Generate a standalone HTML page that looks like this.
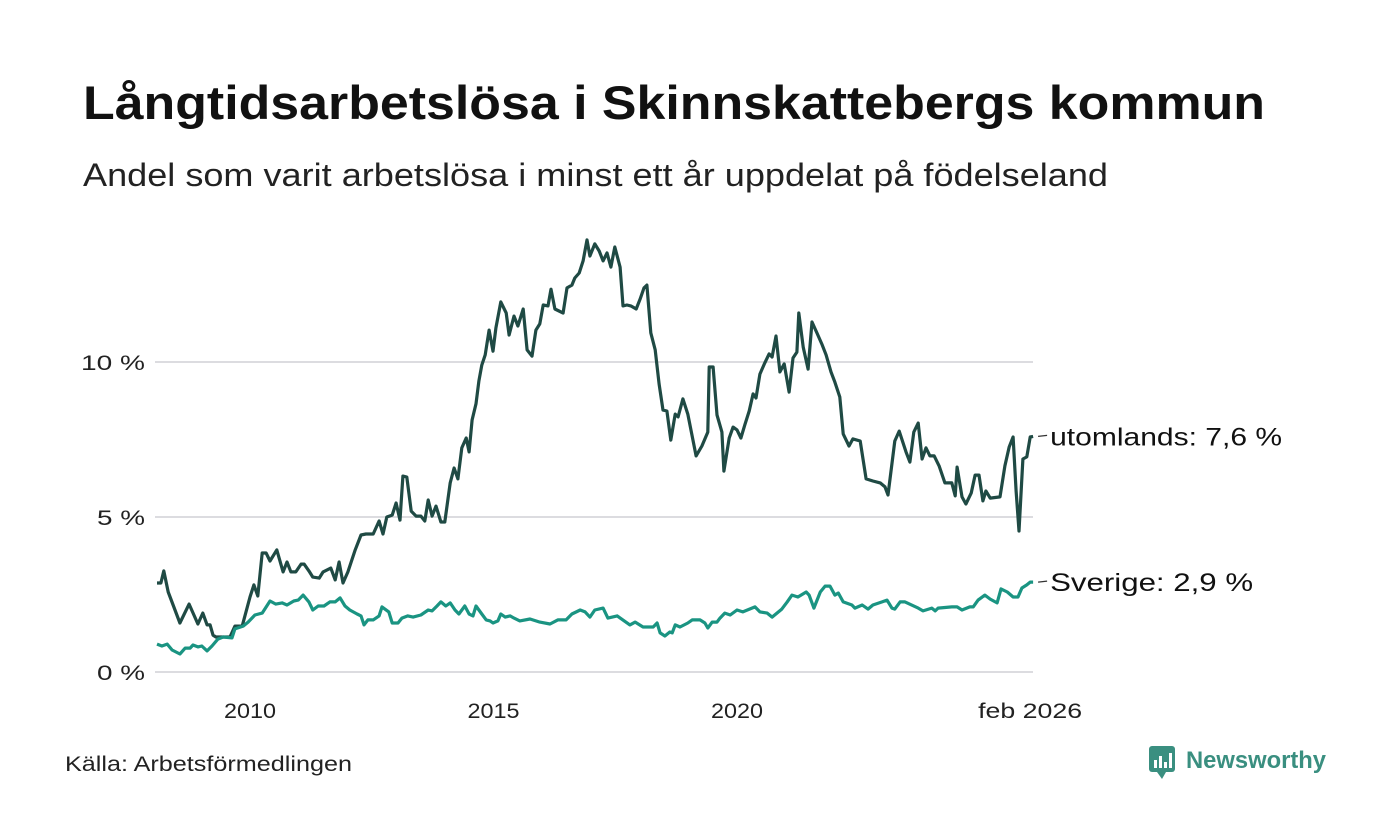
<!DOCTYPE html>
<html><head><meta charset="utf-8"><style>
html,body{margin:0;padding:0;background:#fff;}
svg{display:block;font-family:"Liberation Sans","DejaVu Sans",sans-serif;}
</style></head><body>
<svg id="chart" width="1400" height="840" viewBox="0 0 1400 840">
<text x="83" y="119" font-size="47" font-weight="bold" fill="#111" textLength="1182" lengthAdjust="spacingAndGlyphs">Långtidsarbetslösa i Skinnskattebergs kommun</text>
<text x="83" y="186" font-size="32" fill="#222" textLength="1025" lengthAdjust="spacingAndGlyphs">Andel som varit arbetslösa i minst ett år uppdelat på födelseland</text>
<g id="grid"></g>
<g id="yticks"></g>
<g id="xticks"></g>
<g id="lines"></g>
<g id="labels"></g>
<text x="65" y="771" font-size="21" fill="#222" textLength="287" lengthAdjust="spacingAndGlyphs">Källa: Arbetsförmedlingen</text>
<g>
<rect x="1149" y="746" width="26" height="26" rx="3" fill="#3a8f80"/>
<path d="M1157 772 L1162 779 L1166 772 Z" fill="#3a8f80"/>
<rect x="1154" y="760" width="3" height="8" fill="#fff"/><rect x="1159" y="756" width="3" height="12" fill="#fff"/><rect x="1164" y="762" width="3" height="6" fill="#fff"/><rect x="1169" y="753" width="3" height="15" fill="#fff"/>
<text x="1186" y="768" font-size="24" font-weight="bold" fill="#3a8f80" textLength="140" lengthAdjust="spacingAndGlyphs">Newsworthy</text>
</g>
</svg>
<script>
const yTicks = [0, 5, 10];
const yTickLabels = ["0 %", "5 %", "10 %"];
const xTicks = [2010, 2015, 2020, 2026.08];
const xTickLabels = ["2010", "2015", "2020", "feb 2026"];
const seriesNames = ["utomlands", "Sverige"];
const seriesLabels = ["utomlands: 7,6 %", "Sverige: 2,9 %"];
const foreignDates = [2008.09,2008.17,2008.23,2008.32,2008.56,2008.75,2008.93,2009.03,2009.12,2009.18,2009.24,2009.30,2009.59,2009.69,2009.84,2010.00,2010.08,2010.16,2010.25,2010.33,2010.41,2010.55,2010.68,2010.76,2010.84,2010.94,2011.05,2011.11,2011.21,2011.29,2011.42,2011.50,2011.66,2011.75,2011.83,2011.91,2012.01,2012.16,2012.28,2012.38,2012.53,2012.65,2012.73,2012.81,2012.92,2013.00,2013.08,2013.14,2013.22,2013.31,2013.41,2013.51,2013.59,2013.66,2013.74,2013.82,2013.92,2014.00,2014.11,2014.19,2014.27,2014.35,2014.44,2014.50,2014.56,2014.64,2014.70,2014.76,2014.83,2014.91,2014.99,2015.05,2015.15,2015.26,2015.32,2015.42,2015.50,2015.61,2015.69,2015.79,2015.87,2015.95,2016.02,2016.12,2016.18,2016.26,2016.43,2016.51,2016.61,2016.67,2016.76,2016.84,2016.92,2016.98,2017.08,2017.17,2017.25,2017.33,2017.41,2017.49,2017.60,2017.66,2017.74,2017.82,2017.93,2018.01,2018.09,2018.15,2018.23,2018.32,2018.40,2018.48,2018.56,2018.64,2018.73,2018.79,2018.89,2018.99,2019.16,2019.28,2019.40,2019.43,2019.51,2019.59,2019.69,2019.73,2019.84,2019.92,2020.00,2020.08,2020.16,2020.25,2020.33,2020.39,2020.47,2020.57,2020.66,2020.72,2020.80,2020.88,2020.97,2021.07,2021.15,2021.23,2021.27,2021.36,2021.46,2021.54,2021.64,2021.75,2021.83,2021.93,2022.01,2022.11,2022.18,2022.30,2022.38,2022.53,2022.65,2022.79,2022.94,2023.04,2023.10,2023.24,2023.33,2023.47,2023.55,2023.63,2023.72,2023.80,2023.88,2023.96,2024.05,2024.15,2024.27,2024.41,2024.48,2024.52,2024.62,2024.70,2024.81,2024.89,2024.97,2025.05,2025.11,2025.20,2025.40,2025.50,2025.59,2025.67,2025.73,2025.79,2025.87,2025.95,2026.02,2026.08];
const foreignValues = [2.87,2.87,3.26,2.58,1.58,2.19,1.55,1.90,1.52,1.52,1.19,1.13,1.13,1.48,1.48,2.42,2.81,2.45,3.84,3.84,3.58,3.94,3.23,3.55,3.23,3.23,3.48,3.48,3.26,3.06,3.03,3.23,3.35,2.97,3.55,2.87,3.23,3.94,4.42,4.45,4.45,4.87,4.45,5.00,5.06,5.45,4.90,6.32,6.29,5.19,5.03,5.03,4.87,5.55,5.03,5.35,4.84,4.84,6.10,6.58,6.23,7.23,7.55,7.10,8.13,8.65,9.39,9.90,10.23,11.03,10.35,11.10,11.94,11.58,10.87,11.48,11.16,11.71,10.39,10.19,11.03,11.23,11.84,11.81,12.35,11.71,11.58,12.39,12.48,12.71,12.87,13.26,13.94,13.42,13.81,13.58,13.26,13.52,13.06,13.71,13.06,11.81,11.84,11.81,11.71,12.03,12.39,12.48,10.94,10.39,9.29,8.45,8.42,7.48,8.32,8.23,8.81,8.32,6.97,7.29,7.74,9.84,9.84,8.29,7.74,6.48,7.55,7.90,7.81,7.55,7.97,8.42,8.97,8.84,9.61,9.97,10.26,10.16,10.84,9.68,9.94,9.03,10.13,10.32,11.58,10.48,9.77,11.29,10.94,10.55,10.23,9.68,9.35,8.87,7.68,7.29,7.52,7.45,6.23,6.16,6.10,5.97,5.71,7.45,7.77,7.10,6.77,7.74,8.03,6.87,7.23,6.97,6.97,6.65,6.10,6.10,5.68,6.61,5.65,5.42,5.77,6.35,6.35,5.52,5.84,5.61,5.65,6.65,7.26,7.58,5.84,4.55,6.87,6.94,7.58,7.60];
const swedenDates = [2008.09,2008.19,2008.30,2008.40,2008.56,2008.67,2008.77,2008.83,2008.93,2009.01,2009.12,2009.22,2009.34,2009.45,2009.63,2009.69,2009.86,2009.96,2010.10,2010.25,2010.41,2010.53,2010.66,2010.76,2010.90,2010.99,2011.09,2011.21,2011.29,2011.40,2011.52,2011.64,2011.75,2011.85,2011.95,2012.05,2012.20,2012.28,2012.34,2012.42,2012.53,2012.65,2012.71,2012.85,2012.92,2013.04,2013.12,2013.24,2013.35,2013.51,2013.66,2013.74,2013.84,2013.92,2014.02,2014.11,2014.21,2014.29,2014.41,2014.50,2014.58,2014.64,2014.76,2014.85,2014.93,2014.99,2015.09,2015.15,2015.24,2015.34,2015.42,2015.54,2015.75,2015.95,2016.16,2016.32,2016.49,2016.61,2016.78,2016.88,2016.98,2017.08,2017.25,2017.35,2017.54,2017.80,2017.91,2018.07,2018.28,2018.36,2018.42,2018.52,2018.62,2018.67,2018.73,2018.83,2018.99,2019.08,2019.24,2019.34,2019.40,2019.49,2019.59,2019.65,2019.75,2019.86,2020.00,2020.12,2020.37,2020.47,2020.62,2020.72,2020.92,2021.03,2021.13,2021.25,2021.42,2021.48,2021.58,2021.71,2021.81,2021.91,2022.01,2022.08,2022.18,2022.36,2022.42,2022.57,2022.69,2022.79,2022.98,2023.08,2023.18,2023.24,2023.35,2023.45,2023.72,2023.82,2024.00,2024.07,2024.13,2024.41,2024.52,2024.62,2024.78,2024.85,2024.95,2025.09,2025.20,2025.34,2025.42,2025.55,2025.67,2025.77,2025.85,2025.95,2026.02,2026.08];
const swedenValues = [0.90,0.84,0.90,0.71,0.58,0.77,0.77,0.87,0.81,0.84,0.68,0.84,1.06,1.13,1.10,1.39,1.48,1.61,1.84,1.90,2.29,2.19,2.23,2.16,2.29,2.32,2.48,2.26,2.00,2.13,2.13,2.26,2.26,2.39,2.13,2.00,1.87,1.81,1.52,1.68,1.68,1.81,2.10,1.94,1.58,1.58,1.74,1.81,1.77,1.84,2.00,1.97,2.13,2.26,2.13,2.23,2.00,1.87,2.13,1.87,1.81,2.13,1.87,1.68,1.65,1.58,1.65,1.87,1.77,1.81,1.74,1.65,1.71,1.61,1.55,1.68,1.68,1.87,2.00,1.94,1.77,2.00,2.06,1.74,1.81,1.52,1.61,1.45,1.45,1.58,1.26,1.16,1.29,1.26,1.52,1.45,1.58,1.68,1.68,1.58,1.42,1.61,1.61,1.74,1.90,1.84,2.00,1.94,2.10,1.94,1.90,1.77,2.03,2.26,2.48,2.42,2.58,2.48,2.06,2.58,2.77,2.77,2.48,2.55,2.26,2.16,2.06,2.16,2.03,2.16,2.26,2.32,2.06,2.03,2.26,2.26,2.06,1.97,2.06,1.97,2.06,2.10,2.10,2.00,2.10,2.10,2.32,2.48,2.35,2.23,2.68,2.58,2.42,2.42,2.71,2.81,2.90,2.90];

const NS = "http://www.w3.org/2000/svg";
const xScale = v => 250 + (v - 2010) * 48.7;
const yScale = v => 672 - v * 31;
function mk(tag, attrs, parent){const e=document.createElementNS(NS,tag);for(const k in attrs)e.setAttribute(k,attrs[k]);parent.appendChild(e);return e;}

const grid=document.getElementById('grid'), yt=document.getElementById('yticks'), xt=document.getElementById('xticks');
yTicks.forEach((t,i)=>{
  const l=mk('line',{x1:155,x2:1033,y1:yScale(t),y2:yScale(t),stroke:'#dcdce0','stroke-width':2},grid);
  
  
  const tx=mk('text',{x:145,y:yScale(t)+8,'font-size':21,fill:'#222','text-anchor':'end'},yt);
  tx.textContent=yTickLabels[i];
  tx.setAttribute('textLength', yTickLabels[i].length*16);
  tx.setAttribute('lengthAdjust','spacingAndGlyphs');
  
  
});
xTicks.forEach((t,i)=>{
  const tx=mk('text',{x:xScale(t)-(i===3?3:0),y:718,'font-size':21,fill:'#222','text-anchor':'middle'},xt);
  tx.textContent=xTickLabels[i];
  tx.setAttribute('textLength', xTickLabels[i].length*13);
  tx.setAttribute('lengthAdjust','spacingAndGlyphs');
  
  
});
const lines=document.getElementById('lines'), labs=document.getElementById('labels');
const series=[[foreignDates,foreignValues,'#1f4a44'],[swedenDates,swedenValues,'#1a9482']];
series.forEach((s,i)=>{
  const d=s[0].map((x,j)=>(j?'L':'M')+xScale(x).toFixed(1)+' '+yScale(s[1][j]).toFixed(1)).join(' ');
  const p=mk('path',{d:d,fill:'none',stroke:s[2],'stroke-width':3.2,'stroke-linejoin':'round'},lines);
  
  
  const lx=xScale(s[0][s[0].length-1]), ly=yScale(s[1][s[1].length-1]);
  mk('line',{x1:lx+5,x2:lx+14,y1:ly,y2:ly-1,stroke:'#333','stroke-width':1.2},labs);
  const tx=mk('text',{x:lx+17,y:ly+9,'font-size':25,fill:'#111'},labs);
  tx.textContent=seriesLabels[i];
  tx.setAttribute('textLength', seriesLabels[i].length*14.5);
  tx.setAttribute('lengthAdjust','spacingAndGlyphs');
  
  
});
</script>
</body></html>
